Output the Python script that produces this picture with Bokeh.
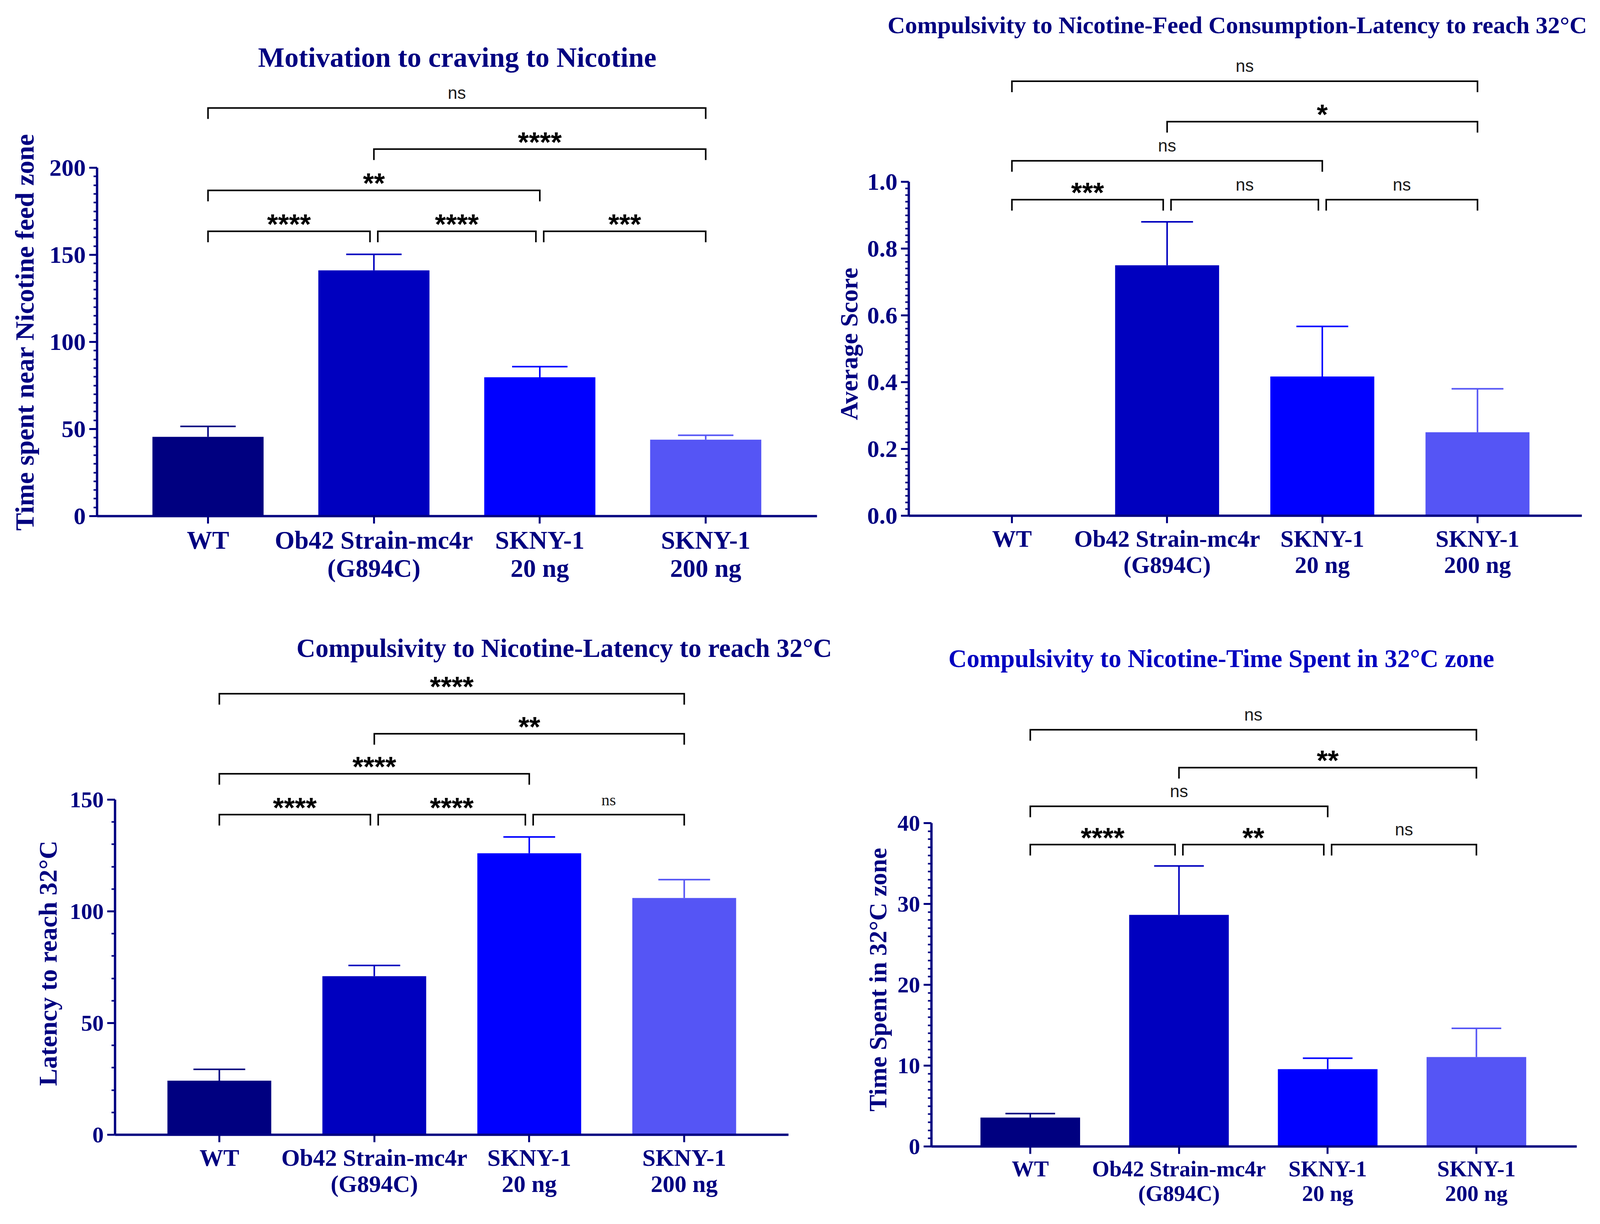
import math
from bokeh.plotting import figure
from bokeh.models import FixedTicker, Range1d, PrintfTickFormatter
from bokeh.layouts import column, row
from bokeh.embed import file_html
from bokeh.resources import INLINE
from bokeh.core.properties import value

# ---------------- data ----------------
categories = ["WT", "Ob42 Strain-mc4r\n(G894C)", "SKNY-1\n20 ng", "SKNY-1\n200 ng"]
positions = [0, 1, 2, 3]

craving_mean = [45.5, 141.1, 79.7, 43.9]
craving_err = [6.0, 9.2, 6.1, 2.5]
craving_ticks = [0, 50, 100, 150, 200]
craving_brackets = [(0, 1, "****", 163.5), (1, 2, "****", 163.5), (2, 3, "***", 163.5),
                    (0, 2, "**", 187.0), (1, 3, "****", 210.7), (0, 3, "ns", 234.3)]

feed_mean = [0.0, 0.75, 0.417, 0.25]
feed_err = [0.0, 0.13, 0.15, 0.13]
feed_ticks = [0.0, 0.2, 0.4, 0.6, 0.8, 1.0]
feed_brackets = [(0, 1, "***", 0.9465), (1, 2, "ns", 0.9465), (2, 3, "ns", 0.9465),
                 (0, 2, "ns", 1.0628), (1, 3, "*", 1.1802), (0, 3, "ns", 1.3012)]

latency_mean = [24.2, 71.0, 126.0, 106.0]
latency_err = [5.1, 4.8, 7.3, 8.2]
latency_ticks = [0, 50, 100, 150]
latency_brackets = [(0, 1, "****", 143.3), (1, 2, "****", 143.3), (2, 3, "ns", 143.3),
                    (0, 2, "****", 161.6), (1, 3, "**", 179.5), (0, 3, "****", 197.4)]

zone_mean = [3.57, 28.65, 9.57, 11.06]
zone_err = [0.5, 6.05, 1.35, 3.55]
zone_ticks = [0, 10, 20, 30, 40]
zone_brackets = [(0, 1, "****", 37.34), (1, 2, "**", 37.34), (2, 3, "ns", 37.34),
                 (0, 2, "ns", 42.08), (1, 3, "**", 46.86), (0, 3, "ns", 51.55)]

titles = ["Motivation to craving to Nicotine",
          "Compulsivity to Nicotine-Feed Consumption-Latency to reach 32°C",
          "Compulsivity to Nicotine-Latency to reach 32°C",
          "Compulsivity to Nicotine-Time Spent in 32°C zone"]
ylabels = ["Time spent near Nicotine feed zone", "Average Score",
           "Latency to reach 32°C", "Time Spent in 32°C zone"]

# ---------------- style / layout ----------------
NAVY = "#000080"
BAR_COLORS = ["#000080", "#0000BF", "#0000FF", "#5555F5"]
SERIF = "Liberation Serif"
SANS = "Liberation Sans"
MID = 0.337      # em offset from alphabetic baseline to em-box middle

G1 = dict(ox=8, oy=8, W=2137, H=1552, strip_h=204, lab_w=107,
          axis_x=256, zero=1329, ppu=4.46, cat0=540, spacing=424.7, axis_right=2099,
          title_cx=1178, title_base=179, title_size=72, title_color=NAVY,
          ylab_x=93, ylab_cy=858, ylab_size=68, xlab_size=65, ytick_size=62)
G2 = dict(ox=2145, oy=8, W=2042, H=1552, strip_h=122, lab_w=77,
          axis_x=2334, zero=1328, ppu=855.0, cat0=2598, spacing=397.3, axis_right=4057,
          title_cx=3175, title_base=92, title_size=62, title_color=NAVY,
          ylab_x=2203, ylab_cy=888, ylab_size=64, xlab_size=61, ytick_size=62)
G3 = dict(ox=8, oy=1560, W=2137, H=1564, strip_h=160, lab_w=167,
          axis_x=302, zero=2913, ppu=5.72, cat0=569, spacing=396.7, axis_right=2026,
          title_cx=1452, title_base=1689, title_size=67, title_color=NAVY,
          ylab_x=152, ylab_cy=2474, ylab_size=66, xlab_size=61, ytick_size=58)
G4 = dict(ox=2145, oy=1560, W=2042, H=1564, strip_h=190, lab_w=148,
          axis_x=2392, zero=2943, ppu=20.7, cat0=2645, spacing=380.7, axis_right=4044,
          title_cx=3134, title_base=1715, title_size=65, title_color="#0000C0",
          ylab_x=2277, ylab_cy=2516, ylab_size=64, xlab_size=57, ytick_size=58)


def blank_figure(w, h):
    f = figure(width=w, height=h, x_range=Range1d(0, w), y_range=Range1d(0, h),
               output_backend="svg", toolbar_location=None, tools="",
               x_axis_location=None, y_axis_location=None,
               min_border_left=0, min_border_right=0, min_border_top=0, min_border_bottom=0)
    f.xgrid.visible = False
    f.ygrid.visible = False
    f.outline_line_color = None
    f.background_fill_color = "white"
    f.border_fill_color = "white"
    return f


def make_panel(g, means, errs, ticks, minor_div, fmt, brackets, title, ylabel, serif_ns=()):
    W, H = g["W"], g["H"]
    sh, lw = g["strip_h"], g["lab_w"]
    mox, moy = g["ox"] + lw, g["oy"] + sh
    mw, mh = W - lw, H - sh
    sp, ppu = g["spacing"], g["ppu"]

    def dx(px):
        return (px - g["cat0"]) / sp

    def dy(py):
        return (g["zero"] - py) / ppu

    head = blank_figure(mw, sh)
    tmid = g["title_base"] - MID * g["title_size"]
    head.text(x=[g["title_cx"] - mox], y=[sh - (tmid - g["oy"])], text=[title],
              text_font=value(SERIF), text_font_style="bold",
              text_font_size=value("%dpx" % g["title_size"]), text_align="center",
              text_baseline="middle", text_color=g["title_color"])

    lab = blank_figure(lw, H)
    lmid = g["ylab_x"] - MID * g["ylab_size"]
    lab.text(x=[lmid - g["ox"]], y=[(g["oy"] + H) - g["ylab_cy"]], text=[ylabel],
             angle=math.pi / 2, text_font=value(SERIF), text_font_style="bold",
             text_font_size=value("%dpx" % g["ylab_size"]), text_align="center",
             text_baseline="middle", text_color=NAVY)

    x0, x1 = dx(g["axis_x"]), dx(mox + mw)
    y1 = dy(moy)
    p = figure(width=mw, height=mh, x_range=Range1d(x0, x1), y_range=Range1d(0, y1),
               output_backend="svg", toolbar_location=None, tools="",
               min_border_left=int(round(g["axis_x"] - mox)), min_border_right=0,
               min_border_top=0, min_border_bottom=int(round(moy + mh - g["zero"])))
    p.xgrid.visible = False
    p.ygrid.visible = False
    p.outline_line_color = None
    p.background_fill_color = "white"
    p.border_fill_color = "white"

    p.vbar(x=positions, top=means, bottom=0, width=0.67, fill_color=BAR_COLORS, line_color=None)
    ex, ey0, ey1, ec = [], [], [], []
    cx0, cx1, cy = [], [], []
    for i, (m, e) in enumerate(zip(means, errs)):
        if e <= 0:
            continue
        ex.append(positions[i]); ey0.append(m); ey1.append(m + e); ec.append(BAR_COLORS[i])
        cx0.append(positions[i] - 0.167); cx1.append(positions[i] + 0.167); cy.append(m + e)
    p.segment(x0=ex, y0=ey0, x1=ex, y1=ey1, line_color=ec, line_width=4)
    p.segment(x0=cx0, y0=cy, x1=cx1, y1=cy, line_color=ec, line_width=4)

    drop = 28 / ppu
    inset = 10 / sp
    bxs, bys = [], []
    star_x, star_y, star_t = [], [], []
    ns_x, ns_y = [], []
    sns_x, sns_y = [], []
    for k, (l, r, labtxt, lvl) in enumerate(brackets):
        shared_l = any(b[1] == l and b[3] == lvl for b in brackets)
        shared_r = any(b[0] == r and b[3] == lvl for b in brackets)
        xl = l + (inset if shared_l else 0)
        xr = r - (inset if shared_r else 0)
        bxs.append([xl, xl, xr, xr])
        bys.append([lvl - drop, lvl, lvl, lvl - drop])
        mid = (xl + xr) / 2
        if labtxt == "ns":
            if k in serif_ns:
                sns_x.append(mid); sns_y.append(lvl + 38 / ppu)
            else:
                ns_x.append(mid); ns_y.append(lvl + 39 / ppu)
        else:
            star_x.append(mid); star_y.append(lvl + 18 / ppu); star_t.append(labtxt)
    p.multi_line(xs=bxs, ys=bys, line_color="black", line_width=4, line_join="miter")
    if star_x:
        p.text(x=star_x, y=star_y, text=star_t, text_font=value(SANS), text_font_style="bold",
               text_font_size=value("72px"), text_align="center", text_baseline="middle",
               text_color="black")
    if ns_x:
        p.text(x=ns_x, y=ns_y, text=["ns"] * len(ns_x), text_font=value(SANS),
               text_font_size=value("44px"), text_align="center", text_baseline="middle",
               text_color="#1a1a1a")
    if sns_x:
        p.text(x=sns_x, y=sns_y, text=["ns"] * len(sns_x), text_font=value(SERIF),
               text_font_size=value("42px"), text_align="center", text_baseline="middle",
               text_color="#1a1a1a")

    step = ticks[1] - ticks[0]
    minor = []
    for t in ticks[:-1]:
        for j in range(1, minor_div):
            minor.append(t + step * j / minor_div)
    ya = p.yaxis[0]
    ya.ticker = FixedTicker(ticks=ticks, minor_ticks=minor)
    ya.formatter = PrintfTickFormatter(format=fmt)
    ya.bounds = (ticks[0], ticks[-1])
    ya.axis_line_color = NAVY
    ya.axis_line_width = 6
    ya.major_tick_line_color = NAVY
    ya.major_tick_line_width = 5
    ya.major_tick_out = 20
    ya.major_tick_in = 0
    ya.minor_tick_line_color = NAVY
    ya.minor_tick_line_width = 4
    ya.minor_tick_out = 9
    ya.minor_tick_in = 0
    ya.major_label_text_font = SERIF
    ya.major_label_text_font_style = "bold"
    ya.major_label_text_font_size = "%dpx" % g["ytick_size"]
    ya.major_label_text_color = NAVY
    ya.major_label_standoff = 9

    xa = p.xaxis[0]
    xa.ticker = FixedTicker(ticks=positions, minor_ticks=[])
    xa.major_label_overrides = {pos: c for pos, c in zip(positions, categories)}
    xa.bounds = (x0, dx(g["axis_right"]))
    xa.axis_line_color = NAVY
    xa.axis_line_width = 6
    xa.major_tick_line_color = NAVY
    xa.major_tick_line_width = 5
    xa.major_tick_out = 19
    xa.major_tick_in = 0
    xa.minor_tick_line_color = None
    xa.major_label_text_font = SERIF
    xa.major_label_text_font_style = "bold"
    xa.major_label_text_font_size = "%dpx" % g["xlab_size"]
    xa.major_label_text_color = NAVY
    xa.major_label_text_line_height = 1.0
    xa.major_label_standoff = 6

    return row(lab, column(row(head), p))


p1 = make_panel(G1, craving_mean, craving_err, craving_ticks, 10, "%d", craving_brackets,
                titles[0], ylabels[0])
p2 = make_panel(G2, feed_mean, feed_err, feed_ticks, 10, "%.1f", feed_brackets,
                titles[1], ylabels[1])
p3 = make_panel(G3, latency_mean, latency_err, latency_ticks, 5, "%d", latency_brackets,
                titles[2], ylabels[2], serif_ns=(2,))
p4 = make_panel(G4, zone_mean, zone_err, zone_ticks, 10, "%d", zone_brackets,
                titles[3], ylabels[3])

layout = column(row(p1, p2), row(p3, p4))
open("out.html", "w").write(file_html(layout, INLINE))
